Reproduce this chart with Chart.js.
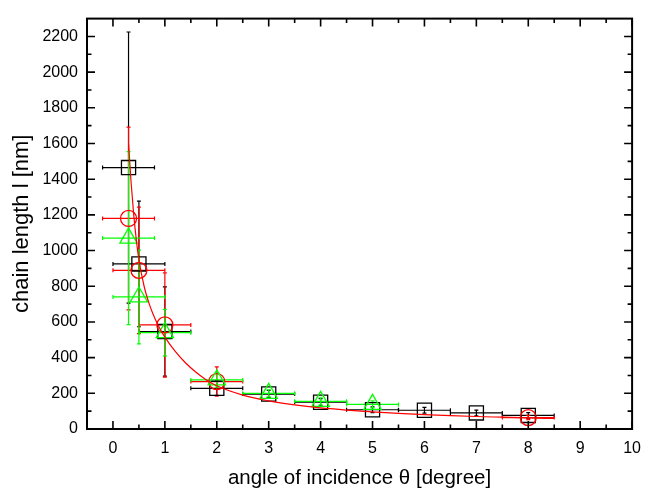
<!DOCTYPE html>
<html><head><meta charset="utf-8">
<script src="https://cdn.jsdelivr.net/npm/chart.js@4/dist/chart.umd.min.js"></script>
<style>html,body{margin:0;padding:0;background:#fff}#wrap{width:651px;height:489px}</style>
</head><body><div id="wrap"><canvas id="c" width="651" height="489"></canvas></div>
<script>
// ---- tick labels ----
const xTickValues = [0,1,2,3,4,5,6,7,8,9,10];
const yTickValues = [0,200,400,600,800,1000,1200,1400,1600,1800,2000,2200];

// ---- black squares ----
const blackX    = [0.3, 0.5, 1, 2, 3, 4, 5, 6, 7, 8];
const blackY    = [1465, 925, 546, 228, 196, 150, 108, 105, 90, 76];
const blackXErr = [0.5, 0.5, 0.5, 0.5, 0.5, 0.5, 0.5, 0.5, 0.5, 0.5];
const blackYErr = [760, 352, 250, 40, 20, 20, 16, 16, 16, 16];

// ---- red circles ----
const redX    = [0.3, 0.5, 1, 2, 8];
const redY    = [1180, 889, 583, 266, 64];
const redXErr = [0.5, 0.5, 0.5, 0.5, 0.5];
const redYErr = [512, 355, 292, 82, 12];

// ---- green triangles ----
const greenX    = [0.3, 0.5, 1, 2, 3, 4, 5];
const greenY    = [1070, 740, 540, 275, 200, 155, 138];
const greenXErr = [0.5, 0.5, 0.5, 0.5, 0.5, 0.5, 0.5];
const greenYErr = [485, 263, 130, 40, 20, 20, 20];

// ---- red fit curve ----
const fitX = [0.3,0.35,0.4,0.45,0.5,0.6,0.7,0.8,0.9,1.0,1.2,1.4,1.6,1.8,2.0,2.5,3,3.5,4,4.5,5,5.5,6,6.5,7,7.5,8,8.5];
const fitY = [1600,1380,1200,1060,950,800,700,625,565,515,435,370,318,275,242,190,158,135,118,106,96,88,81,75,70,66,62,59];

const FONT = "'Liberation Sans', Arial, sans-serif";
const pts = (X, Y) => X.map((x, i) => ({x: x, y: Y[i]}));

const errorSeries = [
  {X: blackX, Y: blackY, XE: blackXErr, YE: blackYErr, color: '#000000'},
  {X: redX, Y: redY, XE: redXErr, YE: redYErr, color: '#ff0000'},
  {X: greenX, Y: greenY, XE: greenXErr, YE: greenYErr, color: '#00ff00'}
];

const errorBarPlugin = {
  id: 'errbars',
  beforeDatasetsDraw(chart) {
    const ctx = chart.ctx, xs = chart.scales.x, ys = chart.scales.y;
    ctx.save();
    ctx.lineWidth = 1.2;
    const cap = 2;
    errorSeries.forEach(s => {
      ctx.strokeStyle = s.color;
      s.X.forEach((xv, i) => {
        const px = xs.getPixelForValue(xv), py = ys.getPixelForValue(s.Y[i]);
        const x1 = xs.getPixelForValue(xv - s.XE[i]), x2 = xs.getPixelForValue(xv + s.XE[i]);
        const y1 = ys.getPixelForValue(s.Y[i] - s.YE[i]), y2 = ys.getPixelForValue(s.Y[i] + s.YE[i]);
        ctx.beginPath();
        ctx.moveTo(x1, py); ctx.lineTo(x2, py);
        ctx.moveTo(x1, py - cap); ctx.lineTo(x1, py + cap);
        ctx.moveTo(x2, py - cap); ctx.lineTo(x2, py + cap);
        ctx.moveTo(px, y1); ctx.lineTo(px, y2);
        ctx.moveTo(px - cap, y1); ctx.lineTo(px + cap, y1);
        ctx.moveTo(px - cap, y2); ctx.lineTo(px + cap, y2);
        ctx.stroke();
      });
    });
    ctx.restore();
  },
  afterDraw(chart) {
    const ctx = chart.ctx, xs = chart.scales.x, ys = chart.scales.y, ca = chart.chartArea;
    ctx.save();
    ctx.strokeStyle = '#000';
    ctx.lineWidth = 1.6;
    const major = 8, minor = 4.5;
    const xMinor = xTickValues.map(v => v - 0.5).concat([xTickValues[xTickValues.length-1] + 0.5]);
    const yMinor = yTickValues.map(v => v + 100);
    ctx.beginPath();
    xTickValues.forEach(v => {
      const p = xs.getPixelForValue(v);
      ctx.moveTo(p, ca.bottom); ctx.lineTo(p, ca.bottom - major);
      ctx.moveTo(p, ca.top); ctx.lineTo(p, ca.top + major);
    });
    xMinor.forEach(v => {
      if (v <= xs.min || v >= xs.max) return;
      const p = xs.getPixelForValue(v);
      ctx.moveTo(p, ca.bottom); ctx.lineTo(p, ca.bottom - minor);
      ctx.moveTo(p, ca.top); ctx.lineTo(p, ca.top + minor);
    });
    yTickValues.forEach(v => {
      const p = ys.getPixelForValue(v);
      ctx.moveTo(ca.left, p); ctx.lineTo(ca.left + major, p);
      ctx.moveTo(ca.right, p); ctx.lineTo(ca.right - major, p);
    });
    yMinor.forEach(v => {
      if (v <= ys.min || v >= ys.max) return;
      const p = ys.getPixelForValue(v);
      ctx.moveTo(ca.left, p); ctx.lineTo(ca.left + minor, p);
      ctx.moveTo(ca.right, p); ctx.lineTo(ca.right - minor, p);
    });
    ctx.stroke();
    ctx.lineWidth = 2;
    ctx.strokeRect(ca.left, ca.top, ca.right - ca.left, ca.bottom - ca.top);
    ctx.restore();
  }
};

new Chart(document.getElementById('c'), {
  type: 'scatter',
  data: {
    datasets: [
      {label: 'fit', data: pts(fitX, fitY), showLine: true, borderColor: '#ff0000', borderWidth: 1.2,
       pointRadius: 0, cubicInterpolationMode: 'monotone', fill: false, order: 0},
      {label: 'green', data: pts(greenX, greenY), pointStyle: 'triangle', pointRadius: 10,
       borderColor: '#00ff00', backgroundColor: 'rgba(0,0,0,0)', borderWidth: 1.3, order: 1},
      {label: 'red', data: pts(redX, redY), pointStyle: 'circle', pointRadius: 8,
       borderColor: '#ff0000', backgroundColor: 'rgba(0,0,0,0)', borderWidth: 1.3, order: 2},
      {label: 'black', data: pts(blackX, blackY), pointStyle: 'rect', pointRadius: 10,
       borderColor: '#000000', backgroundColor: 'rgba(0,0,0,0)', borderWidth: 1.3, order: 3}
    ]
  },
  options: {
    responsive: false,
    animation: false,
    layout: {padding: {top: 12, right: 11, left: 0, bottom: 0}},
    plugins: {legend: {display: false}, tooltip: {enabled: false}},
    scales: {
      x: {
        type: 'linear', min: -0.5, max: 10,
        grid: {display: false, drawTicks: false}, border: {display: false},
        afterBuildTicks: s => { s.ticks = xTickValues.map(v => ({value: v})); },
        afterFit: s => { s.height = 60; },
        ticks: {color: '#000', padding: 10, font: {family: FONT, size: 16}, maxRotation: 0, autoSkip: false,
                callback: v => String(v)},
        title: {display: true, text: 'angle of incidence θ [degree]', color: '#000',
                font: {family: FONT, size: 20.5}, padding: {top: 0, bottom: -2}}
      },
      y: {
        type: 'linear', min: 0, max: 2300,
        grid: {display: false, drawTicks: false}, border: {display: false},
        afterBuildTicks: s => { s.ticks = yTickValues.map(v => ({value: v})); },
        afterFit: s => { s.width = 87; },
        ticks: {color: '#000', padding: 9, font: {family: FONT, size: 16}, autoSkip: false,
                callback: v => String(v)},
        title: {display: true, text: 'chain length l [nm]', color: '#000',
                font: {family: FONT, size: 22}, padding: {top: 9, bottom: 0}}
      }
    }
  },
  plugins: [errorBarPlugin]
});
</script>
</body></html>
